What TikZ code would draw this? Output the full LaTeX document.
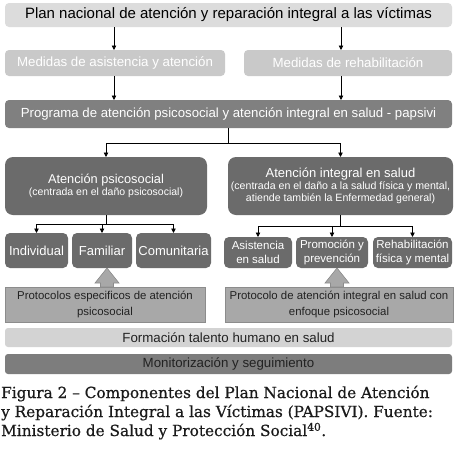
\documentclass[tikz,border=0pt]{standalone}
\usepackage{fontspec}
\setmainfont{Liberation Sans}
\newfontfamily\capfont[BoldFont=*, BoldFeatures={FakeBold=0.6}]{DejaVu Serif}
\usetikzlibrary{arrows.meta,calc}
\definecolor{gTitle}{HTML}{DCDCDC}
\definecolor{gMed}{HTML}{C9C9C9}
\definecolor{gProg}{HTML}{808080}
\definecolor{gDark}{HTML}{6B6B6B}
\definecolor{gProt}{HTML}{A8A8A8}
\definecolor{gProtB}{HTML}{8C8C8C}
\definecolor{gForm}{HTML}{D3D3D3}
\definecolor{gMon}{HTML}{7D7D7D}
\definecolor{txtDark}{HTML}{222222}
\definecolor{capCol}{HTML}{1A1A1A}
\tikzset{
  box/.style={inner sep=0pt, outer sep=0pt, align=center},
  titlebox/.style={box, fill=gTitle, rounded corners=4pt, text=black, font=\fontsize{15}{17}\selectfont},
  medbox/.style={box, fill=gMed, rounded corners=4pt, text=white, font=\fontsize{13.3}{15}\selectfont},
  progbox/.style={box, fill=gProg, rounded corners=4pt, text=white, font=\fontsize{13.2}{15}\selectfont},
  bigbox/.style={box, fill=gDark, rounded corners=8pt, text=white},
  subbox/.style={box, fill=gDark, rounded corners=5pt, text=white},
  protbox/.style={box, fill=gProt, draw=gProtB, line width=0.8pt, text=txtDark, font=\fontsize{11.4}{16}\selectfont},
  formbox/.style={box, fill=gForm, rounded corners=3pt, text=txtDark, font=\fontsize{13.3}{15}\selectfont},
  monbox/.style={box, fill=gMon, rounded corners=3pt, text=txtDark, font=\fontsize{13.3}{15}\selectfont},
  captext/.style={anchor=base west, inner sep=0pt, font=\capfont\bfseries\fontsize{15.3}{19}\selectfont, text=capCol},
  arr/.style={line width=0.8pt, -{Triangle[width=4.5pt,length=4.5pt]}},
  ln/.style={line width=0.8pt},
  blockarrow/.style={fill=gProt, draw=gProtB, line width=0.6pt}
}
\begin{document}
\begin{tikzpicture}[x=1pt,y=-1pt]
\useasboundingbox[fill=white] (0,0) rectangle (458,458);
% nodes
\node[titlebox, minimum width=447pt, minimum height=24pt] (title) at (228.5,15) {Plan nacional de atención y reparación integral a las víctimas};
\node[medbox, minimum width=220pt, minimum height=26pt] (med1) at (115,63) {Medidas de asistencia y atención};
\node[medbox, minimum width=208pt, minimum height=26pt] (med2) at (348,63) {Medidas de rehabilitación};
\node[progbox, minimum width=447pt, minimum height=28pt] (prog) at (228.5,114) {Programa de atención psicosocial y atención integral en salud - papsivi};
\node[bigbox, minimum width=202pt, minimum height=58pt] (ap) at (106,186) {{\fontsize{12.8}{16}\selectfont Atención psicosocial}\\{\fontsize{10.5}{16}\selectfont (centrada en el daño psicosocial)}};
\node[bigbox, minimum width=225pt, minimum height=58pt] (ai) at (340.5,186) {{\fontsize{13}{16}\selectfont Atención integral en salud}\\{\fontsize{10.6}{16}\selectfont (centrada en el daño a la salud física y mental,}\\{\fontsize{10.6}{16}\selectfont atiende también la Enfermedad general)}};
\node[subbox, minimum width=63pt, minimum height=35pt, font=\fontsize{13}{15}\selectfont] (ind) at (36.5,250.5) {Individual};
\node[subbox, minimum width=60pt, minimum height=35pt, font=\fontsize{13}{15}\selectfont] (fam) at (102,250.5) {Familiar};
\node[subbox, minimum width=75pt, minimum height=35pt, font=\fontsize{13}{15}\selectfont] (com) at (173.5,250.5) {Comunitaria};
\node[subbox, minimum width=68pt, minimum height=31pt, font=\fontsize{11.5}{14}\selectfont] (asi) at (258,252.5) {Asistencia\\en salud};
\node[subbox, minimum width=72pt, minimum height=31pt, font=\fontsize{11.5}{14}\selectfont] (pro) at (332,252.5) {Promoción y\\prevención};
\node[subbox, minimum width=79pt, minimum height=31pt, font=\fontsize{11.5}{14}\selectfont] (reh) at (412.5,252.5) {Rehabilitación\\física y mental};
\node[protbox, minimum width=200pt, minimum height=35pt] (prot1) at (105,304.5) {Protocolos especificos de atención\\psicosocial};
\node[protbox, minimum width=228pt, minimum height=35pt] (prot2) at (339,304.5) {Protocolo de atención integral en salud con\\enfoque psicosocial};
\node[formbox, minimum width=447pt, minimum height=19pt] (form) at (228.5,337.5) {Formación talento humano en salud};
\node[monbox, minimum width=447pt, minimum height=20pt] (mon) at (228.5,364) {Monitorización y seguimiento};
\node[captext] (cap1) at (1,398) {Figura 2 – Componentes del Plan Nacional de Atención};
\node[captext] (cap2) at (1,417) {y Reparación Integral a las Víctimas (PAPSIVI). Fuente:};
\node[captext] (cap3) at (1,436) {Ministerio de Salud y Protección Social\textsuperscript{40}.};
% helper coordinates
\coordinate (cL) at (114,0);
\coordinate (cR) at (341,0);
\coordinate (cM) at (228,0);
\coordinate (split1) at (228,143);
\coordinate (split2) at (106,224);
\coordinate (split3) at (340,226);
% connectors
\draw[arr] (title.south -| cL) -- (med1.north -| cL);
\draw[arr] (title.south -| cR) -- (med2.north -| cR);
\draw[arr] (med1.south -| cL) -- (prog.north -| cL);
\draw[arr] (med2.south -| cR) -- (prog.north -| cR);
\draw[ln] (prog.south -| cM) -- (split1);
\draw[arr] (split1) -| (ap.north);
\draw[arr] (split1) -| (ai.north);
\draw[ln] (ap.south) -- (split2);
\draw[arr] (split2) -| (ind.north);
\draw[arr] (split2) -- (fam.north |- split2) -- (fam.north);
\draw[arr] (split2) -| (com.north);
\draw[ln] (ai.south -| split3) -- (split3);
\draw[arr] (split3) -| (asi.north);
\draw[arr] (split3) -- (pro.north |- split3) -- (pro.north);
\draw[arr] (split3) -| (reh.north);
% block arrows
\draw[blockarrow] (prot1.north -| 100.5,0) -- ++(0,-4) -- ++(-5.5,0) -- (fam.south -| 107,0) -- (119,283) -- ++(-5.5,0) -- (prot1.north -| 113.5,0) -- cycle;
\draw[blockarrow] (prot2.north -| 330.5,0) -- ++(0,-4) -- ++(-5.5,0) -- (pro.south -| 337,0) -- (349,283) -- ++(-5.5,0) -- (prot2.north -| 343.5,0) -- cycle;
\end{tikzpicture}
\end{document}
